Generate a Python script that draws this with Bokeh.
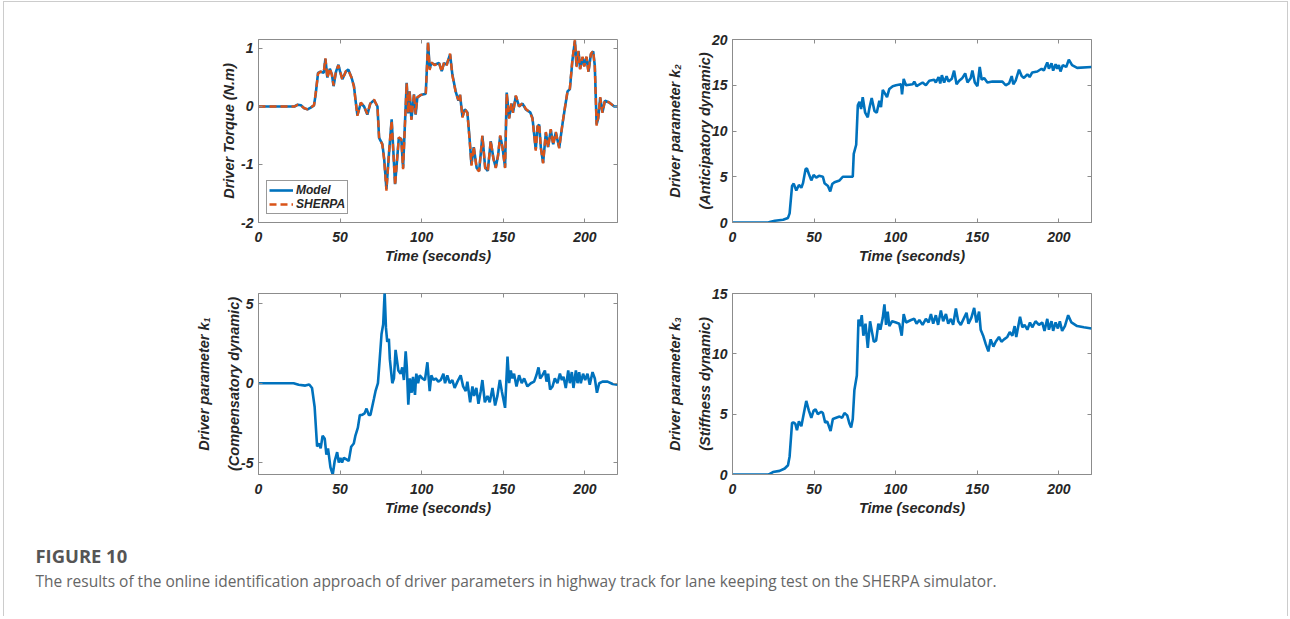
from bokeh.plotting import figure
from bokeh.models import (Range1d, FixedTicker, LinearAxis, Legend, LegendItem,
                          Label, Spacer)
from bokeh.layouts import row, column
from bokeh.embed import file_html
from bokeh.resources import INLINE

# ---------------- data ----------------
x_ticks = [0, 50, 100, 150, 200]

torque_t = [0, 22, 24, 26, 28, 30, 32, 34, 35, 36.5, 38, 40, 41, 42.2, 43.7, 45, 46, 47.5, 49, 50,
            51.4, 53.5, 55, 57, 58.5, 59.5, 60.6, 62.7, 64.7, 66.7, 68.5, 70.8, 72.9, 73.9, 75.9, 77,
            78.4, 80, 81.6, 83.7, 86, 87.5, 88.6, 90.8, 91.8, 92.6, 93.7, 95.3, 96.3, 97.3, 99.4,
            102.5, 103.9, 104.9, 105.9, 108, 110.6, 112.3, 113.7, 115.3, 117.4, 118.8, 120.9, 122.5,
            123.5, 125, 126.4, 128, 129.4, 130.5, 131.9, 133.7, 135.2, 137.2, 138.9, 140.5, 142.3,
            144, 145.4, 146.8, 148.1, 149.5, 151.1, 152.1, 153.6, 155, 156, 157.7, 159.7, 161.8,
            163.8, 166.5, 167.9, 169.9, 171, 172, 173, 174.4, 176.1, 177.5, 179.1, 180.6, 182.2,
            184.3, 186.3, 187.9, 189.4, 190.8, 192.4, 193.9, 194.9, 196.1, 197.1, 198.6, 199.6, 201,
            202.2, 203.7, 205.1, 206.1, 207.2, 208.2, 209.4, 210.8, 212.3, 214.9, 218, 220]
torque_model = [0, 0, 0.03, 0.02, -0.03, -0.05, -0.02, 0.02, 0.2, 0.58, 0.6, 0.58, 0.82, 0.5, 0.65,
                0.55, 0.35, 0.6, 0.72, 0.6, 0.47, 0.6, 0.64, 0.5, 0.35, 0.1, -0.15, 0.06, 0.0, -0.14,
                0.05, 0.11, 0.0, -0.54, -0.65, -0.9, -1.42, -0.8, -0.22, -1.34, -0.54, -0.56, -1.06,
                0.41, -0.12, 0.26, -0.22, 0.21, -0.14, 0.15, 0.2, 0.22, 1.1, 0.65, 0.75, 0.72, 0.75,
                0.61, 0.75, 0.72, 0.9, 0.55, 0.25, 0.1, 0.2, -0.18, -0.05, -0.1, -0.57, -1.0, -0.7,
                -1.06, -1.11, -0.51, -1.05, -1.11, -0.6, -0.9, -1.05, -0.85, -0.51, -0.7, -1.05,
                0.24, -0.2, 0.05, -0.1, 0.18, 0.0, 0.05, -0.05, -0.1, -0.2, -0.74, -0.35, -0.31,
                -0.7, -0.97, -0.45, -0.7, -0.4, -0.65, -0.45, -0.71, -0.3, 0.0, 0.26, 0.3, 0.8, 1.13,
                0.7, 0.95, 0.65, 0.85, 0.7, 0.85, 0.6, 0.9, 0.95, 0.7, -0.31, -0.2, 0.15, -0.1, 0.1,
                0.07, 0.0, 0.0]
torque_sherpa = [0, 0, 0.03, 0.02, -0.03, -0.05, -0.02, 0.02, 0.22, 0.57, 0.6, 0.59, 0.83, 0.49,
                 0.66, 0.54, 0.36, 0.61, 0.71, 0.6, 0.46, 0.61, 0.63, 0.5, 0.34, 0.1, -0.16, 0.07,
                 0.0, -0.13, 0.05, 0.12, 0.0, -0.53, -0.66, -0.92, -1.45, -0.78, -0.24, -1.36,
                 -0.53, -0.57, -1.08, 0.4, -0.11, 0.27, -0.23, 0.22, -0.13, 0.16, 0.2, 0.21, 1.12,
                 0.63, 0.76, 0.71, 0.76, 0.6, 0.76, 0.71, 0.91, 0.54, 0.24, 0.11, 0.21, -0.19,
                 -0.04, -0.11, -0.58, -1.02, -0.69, -1.07, -1.12, -0.5, -1.06, -1.12, -0.59,
                 -0.91, -1.06, -0.84, -0.5, -0.71, -1.06, 0.22, -0.21, 0.06, -0.11, 0.19, 0.0,
                 0.06, -0.04, -0.11, -0.21, -0.76, -0.34, -0.3, -0.71, -0.98, -0.44, -0.71, -0.39,
                 -0.66, -0.44, -0.72, -0.29, 0.0, 0.27, 0.31, 0.82, 1.15, 0.68, 0.96, 0.64, 0.86,
                 0.69, 0.86, 0.59, 0.91, 0.96, 0.68, -0.33, -0.19, 0.16, -0.11, 0.11, 0.07, 0.0, 0.0]

k2_t = [0, 22, 22.8, 26, 31, 34, 35, 36.5, 37.5, 39.1, 40.7, 42.2, 43.2, 44.8, 45.6, 46.8, 48.3,
        49.7, 51.3, 53, 55.4, 56.4, 58.5, 59.9, 61.1, 62.5, 65.6, 67.6, 73.7, 74.3, 75.8, 76.8,
        77.8, 78.8, 79.8, 81.3, 82.9, 83.9, 85.3, 87, 88.4, 90, 91, 92.1, 93.1, 94.7, 96.1, 98.2,
        100.2, 103.3, 103.9, 104.9, 106.3, 110.4, 111.4, 112.8, 116.5, 118.5, 120.6, 123.6, 124.6,
        126.3, 127.3, 128.3, 129.7, 131.2, 132.4, 134.4, 135.8, 137.3, 138.9, 140.9, 142.6, 144,
        146, 147, 148.5, 150.1, 151.5, 152.7, 154.2, 156.2, 159.3, 165.4, 167.4, 169.5, 171.1,
        172.1, 173.5, 175.6, 177.2, 178.6, 180.7, 182.1, 183.7, 186.8, 189.4, 190.8, 192.9, 193.9,
        195.5, 196.5, 198, 199, 200, 201, 202.4, 204.5, 206.1, 208.1, 211.2, 220]
k2 = [0, 0, 0.05, 0.2, 0.3, 0.5, 1.0, 4.0, 4.25, 3.5, 4.1, 3.8, 4.3, 5.86, 5.9, 5.3, 4.6, 5.2,
      4.9, 5.1, 5.0, 4.3, 4.0, 3.4, 4.2, 4.4, 4.6, 5.0, 5.0, 7.5, 8.5, 12.8, 13.2, 12.4, 13.7,
      12.0, 11.5, 12.5, 13.6, 12.2, 12.0, 13.3, 12.6, 14.5, 14.2, 13.7, 14.6, 14.9, 15.0, 15.1,
      14.0, 15.7, 15.0, 15.1, 15.4, 14.9, 15.3, 15.0, 15.5, 15.6, 15.3, 15.9, 15.2, 16.1, 15.3,
      16.0, 15.4, 15.7, 16.6, 15.1, 15.5, 15.8, 16.3, 15.3, 15.8, 16.6, 15.3, 14.9, 17.0, 15.6,
      15.8, 15.3, 15.4, 15.4, 15.0, 15.2, 16.0, 15.1, 15.5, 16.7, 16.0, 15.8, 16.2, 15.9, 16.4,
      16.5, 16.8, 16.6, 17.5, 16.8, 17.4, 16.6, 17.3, 16.8, 17.2, 16.5, 17.2, 17.0, 17.8, 17.2,
      16.9, 17.0]

k1_t = [0, 20, 21.5, 24.6, 28.7, 31.1, 32.8, 34.4, 35.9, 37.3, 38.1, 39.3, 40.6, 41.6, 42.6, 44.1,
        45.5, 46.7, 48.2, 49.2, 50.2, 51.2, 52.3, 53.9, 55.3, 56.8, 58.4, 59.4, 60.9, 62.1, 63.5,
        65, 66.2, 67.6, 68.6, 70.7, 71.7, 73.2, 74.2, 75.4, 76.4, 77.3, 78.1, 78.9, 79.9, 80.5,
        82, 83, 84, 85.7, 87.1, 88.1, 89.1, 90.2, 90.9, 91.8, 92.8, 93.9, 94.7, 95.9, 96.7, 97.8,
        98.8, 100.4, 102, 103.5, 104.9, 105.9, 107.2, 108.6, 110.2, 111.7, 113.3, 114.3, 115.7,
        117.2, 118.8, 120.2, 121.9, 123.9, 125.4, 127, 128, 129.7, 131.1, 132.1, 133.5, 134.8,
        136.2, 137.2, 138.7, 140.3, 141.7, 143.4, 145, 146.4, 147.9, 149.1, 151.1, 152.6, 153.6,
        154.6, 155.6, 156.6, 158.1, 159.7, 161.3, 162.8, 164.8, 166.9, 168.9, 170.3, 171.6,
        172.6, 174, 175.5, 176.5, 177.5, 178.7, 180.2, 181.6, 183.2, 184.7, 185.9, 186.9, 188.3,
        189.8, 190.8, 192, 193, 194.5, 195.5, 196.5, 197.5, 198.9, 200.2, 201.6, 203, 204.7,
        206.1, 207.4, 208.8, 210.8, 213.9, 217, 220]
k1 = [0, 0, 0.0, -0.1, -0.15, -0.08, -0.3, -1.5, -3.98, -3.8, -4.1, -3.3, -3.5, -4.5, -4.1, -5.3,
      -5.75, -4.9, -4.34, -5.0, -4.7, -5.0, -4.7, -4.8, -4.9, -4.0, -3.8, -3.3, -2.8, -2.0, -2.0,
      -1.9, -1.6, -2.0, -2.0, -1.0, -0.5, 0.0, 1.4, 3.1, 3.7, 5.72, 3.5, 2.6, 2.8, 1.5, 0.0, 0.3,
      2.1, 0.8, 0.6, 1.0, 0.2, 2.0, 1.0, -1.35, 0.3, -0.6, 0.4, -0.73, 0.6, 0.0, 0.5, 0.3, 0.2,
      1.32, -0.5, 0.5, 0.2, 0.3, 0.1, 0.2, 0.6, 0.0, 0.5, 0.0, 0.2, -0.3, 0.1, 0.5, -0.2, -0.5,
      0.1, -1.2, -0.2, -0.8, -0.3, -1.3, -0.5, 0.2, -1.2, -0.8, -1.2, -0.3, -1.4, -0.8, 0.2,
      -0.5, -1.55, 1.68, 0.0, 0.8, 0.3, 0.6, -0.2, 0.5, 0.0, 0.3, -0.2, 0.0, 0.1, 0.5, 1.0, 0.3,
      0.5, 0.8, 0.1, 0.6, -0.4, -0.2, 0.3, 0.0, 0.6, 0.2, 0.4, -0.3, 0.8, 0.0, 0.7, -0.3, 0.8,
      0.0, 0.7, 0.0, 0.6, 0.2, 0.6, -0.1, 0.7, 0.3, -0.6, 0.0, 0.1, 0.1, -0.05, -0.1]

k3_t = [0, 22, 22.8, 24.8, 28.9, 32, 34, 35, 36.5, 37.5, 38.5, 39.5, 40.7, 42.2, 43.6, 45.2, 46.8,
        48.3, 49.7, 50.9, 52.3, 54.4, 55.4, 56.8, 58, 59.1, 60.1, 61.5, 63.5, 65.6, 67.2, 68.6,
        70.3, 71.7, 72.7, 73.7, 74.7, 76.2, 77.2, 78.2, 79.2, 80.2, 81.5, 82.9, 84.3, 85.5, 86.6,
        88, 89.4, 90.6, 92.1, 93.1, 94.1, 95.1, 96.1, 97.8, 100.2, 102.2, 103.7, 104.9, 106.3,
        109.4, 111.4, 112.8, 114.5, 116.5, 118.5, 120.2, 121.6, 123, 124.6, 126, 127.7, 129.1,
        130.8, 132.2, 133.8, 135.2, 136.9, 138.3, 139.9, 142, 143.4, 144.6, 146.4, 148.1, 149.5,
        151.1, 152.1, 153.6, 155.2, 156.8, 158.2, 159.9, 161.3, 163.3, 164.8, 166.4, 168.4,
        169.9, 171.5, 172.9, 173.9, 176.2, 177.6, 179, 180.7, 182.3, 183.7, 185.7, 187.8, 189.8,
        191.2, 192.9, 193.9, 195.5, 196.5, 198, 199.4, 200.6, 202, 203.7, 205.7, 207.7, 211.2,
        215.3, 220]
k3 = [0, 0, 0.05, 0.2, 0.3, 0.5, 0.77, 1.5, 4.28, 4.3, 4.2, 3.67, 4.4, 4.0, 5.0, 6.1, 5.3, 4.7,
      5.3, 5.4, 5.0, 5.2, 5.1, 4.3, 4.4, 4.0, 3.6, 4.6, 4.7, 4.8, 4.7, 5.1, 4.9, 4.2, 3.9, 4.6,
      7.0, 8.2, 12.85, 12.3, 13.2, 11.5, 12.5, 10.5, 12.7, 11.8, 11.0, 11.1, 12.5, 12.0, 13.0,
      14.1, 12.4, 13.5, 12.3, 12.7, 12.6, 12.5, 11.5, 13.3, 12.6, 12.8, 12.9, 12.5, 12.8, 12.4,
      12.9, 12.6, 13.3, 12.5, 13.2, 12.4, 13.6, 12.7, 13.3, 12.5, 12.9, 12.4, 13.75, 12.7, 12.4,
      13.0, 13.4, 12.5, 13.0, 13.8, 12.6, 13.5, 12.0, 11.5, 10.8, 10.2, 11.2, 10.6, 11.0, 11.4,
      11.0, 11.2, 11.4, 11.8, 11.5, 12.3, 11.4, 13.07, 12.2, 12.4, 12.0, 12.6, 12.2, 12.7, 12.4,
      12.6, 11.9, 12.9, 12.0, 12.7, 11.9, 12.6, 12.1, 12.7, 11.9, 12.3, 13.2, 12.6, 12.3, 12.2,
      12.1]

# ---------------- styling ----------------
BLUE = "#0072BD"
ORANGE = "#D95319"
FONT = "Liberation Sans"
TXT = "#262626"
FRAME = "#8c8c8c"

FW, LB, RB, BB = 359, 80, 15, 50


def make_fig(y_range, y_ticks, ylabel, fh, top, line_h=1.2, lab_standoff=0):
    p = figure(width=LB + FW + RB, height=top + fh + BB, frame_width=FW, frame_height=fh,
               x_range=Range1d(0, 220), y_range=Range1d(*y_range),
               min_border_left=LB, min_border_right=RB, min_border_top=top,
               min_border_bottom=BB, toolbar_location=None, output_backend="svg",
               background_fill_color="white", border_fill_color="white")
    p.outline_line_color = FRAME
    p.xgrid.visible = False
    p.ygrid.visible = False
    for ax, ticks in ((p.xaxis[0], x_ticks), (p.yaxis[0], y_ticks)):
        ax.ticker = FixedTicker(ticks=ticks)
        ax.major_tick_in = 4
        ax.major_tick_out = 0
        ax.minor_tick_line_color = None
        ax.axis_line_color = FRAME
        ax.major_tick_line_color = FRAME
        ax.major_label_text_font = FONT
        ax.major_label_text_font_style = "bold italic"
        ax.major_label_text_font_size = "14px"
        ax.major_label_text_color = TXT
        ax.major_label_overrides = {t: str(t) for t in ticks}
        ax.axis_label_text_font = FONT
        ax.axis_label_text_font_style = "bold italic"
        ax.axis_label_text_font_size = "14.5px"
        ax.axis_label_text_color = TXT
    p.xaxis[0].major_label_standoff = 9
    p.xaxis[0].axis_label_standoff = 3
    p.xaxis[0].axis_label = "Time (seconds)"
    p.yaxis[0].axis_label = ylabel
    p.yaxis[0].axis_label_standoff = lab_standoff
    p.yaxis[0].axis_label_text_line_height = line_h
    # box ticks on top and right (MATLAB "box on"), no labels
    top_ax = LinearAxis(ticker=FixedTicker(ticks=x_ticks), major_tick_in=4, major_tick_out=0,
                        minor_tick_line_color=None, axis_line_color=None,
                        major_tick_line_color=FRAME, major_label_text_font_size="0px",
                        major_label_text_color=None, major_label_standoff=0)
    right_ax = LinearAxis(ticker=FixedTicker(ticks=y_ticks), major_tick_in=4, major_tick_out=0,
                          minor_tick_line_color=None, axis_line_color=None,
                          major_tick_line_color=FRAME, major_label_text_font_size="0px",
                          major_label_text_color=None, major_label_standoff=0)
    p.add_layout(top_ax, "above")
    p.add_layout(right_ax, "right")
    return p


# top-left: torque
p1 = make_fig((-2, 1.155), [-2, -1, 0, 1], "Driver Torque (N.m)", 183, 37, 1.2, 1)
r_model = p1.line(torque_t, torque_model, line_color=BLUE, line_width=2.6)
r_sherpa = p1.line(torque_t, torque_sherpa, line_color=ORANGE, line_width=2.4, line_dash="7 4")
legend = Legend(items=[LegendItem(label="Model", renderers=[r_model]),
                       LegendItem(label="SHERPA", renderers=[r_sherpa])],
                location="bottom_left", margin=8, padding=2, spacing=0,
                glyph_width=24, glyph_height=14, label_height=14, label_standoff=3,
                label_text_font=FONT, label_text_font_style="bold italic",
                label_text_font_size="12px", label_text_color=TXT,
                border_line_color="#333333", border_line_width=1,
                background_fill_color="white", background_fill_alpha=1)
p1.add_layout(legend)

# top-right: k2
p2 = make_fig((0, 20), [0, 5, 10, 15, 20],
              "Driver parameter k\u2082\n(Anticipatory dynamic)", 183, 37, 1.9, -4)
p2.line(k2_t, k2, line_color=BLUE, line_width=2.6)

# bottom-left: k1
p3 = make_fig((-5.75, 5.65), [-5, 0, 5],
              "Driver parameter k\u2081\n(Compensatory dynamic)", 181, 21, 1.9, -4)
p3.line(k1_t, k1, line_color=BLUE, line_width=2.6)

# bottom-right: k3
p4 = make_fig((0, 15), [0, 5, 10, 15],
              "Driver parameter k\u2083\n(Stiffness dynamic)", 181, 21, 1.9, -4)
p4.line(k3_t, k3, line_color=BLUE, line_width=2.6)

# caption
CW, CH = 1283, 92
cap = figure(width=CW, height=CH, x_range=Range1d(0, CW), y_range=Range1d(0, CH),
             x_axis_location=None, y_axis_location=None, min_border=0,
             toolbar_location=None, output_backend="svg", outline_line_color=None)
cap.xgrid.visible = False
cap.ygrid.visible = False
cap.add_layout(Label(x=31, y=61, text="FIGURE 10", text_font="Open Sans", text_font_style="bold",
                     text_font_size="18.4px", text_color="#555555", text_baseline="middle"))
cap.add_layout(Label(x=31, y=36,
                     text="The results of the online identification approach of driver parameters "
                          "in highway track for lane keeping test on the SHERPA simulator.",
                     text_font="Open Sans", text_font_size="15.5px", text_color="#666666",
                     text_baseline="middle"))

W1 = LB + FW + RB
row1 = row(Spacer(width=174), p1, Spacer(width=20), p2, Spacer(width=CW - 194 - 2 * W1))
row2 = row(Spacer(width=174), p3, Spacer(width=20), p4, Spacer(width=CW - 194 - 2 * W1))
page = column(row1, row2, cap,
              styles={"margin-left": "3px", "margin-top": "1px",
                      "border-left": "1px solid #cccccc", "border-top": "1px solid #cccccc",
                      "border-right": "1px solid #cccccc"})

open("out.html", "w").write(file_html(page, INLINE))
